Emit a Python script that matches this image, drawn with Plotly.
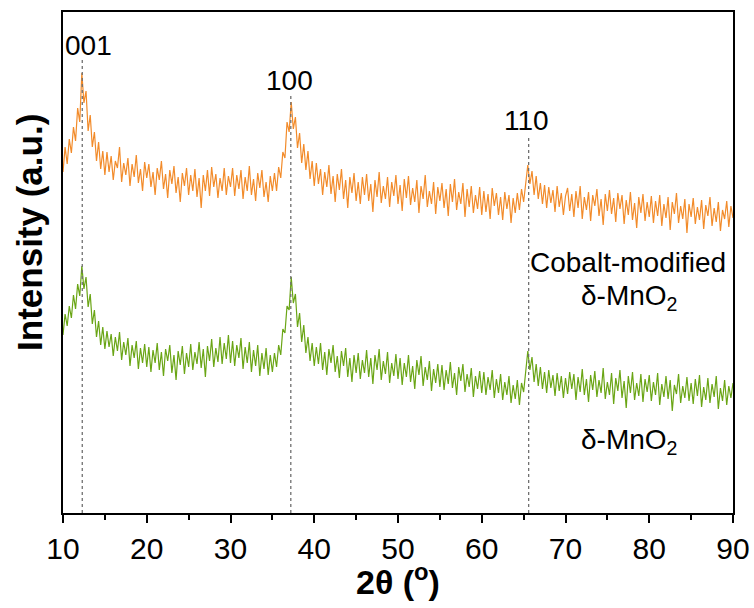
import plotly.graph_objects as go

# ---- data ----
two_theta_start = 10.0
two_theta_step = 0.25

cobalt_mno2 = [
    341, 366, 349, 374, 360, 386, 372, 405, 391, 440, 410, 422, 382, 398, 366, 381, 352, 371, 344, 362, 338,
    361, 341, 357, 333, 352, 345, 366, 331, 350, 338, 355, 327, 349, 336, 358, 330, 344, 322, 351, 335,
    349, 326, 341, 318, 345, 333, 352, 324, 339, 315, 343, 329, 347, 320, 336, 311, 340, 327, 345, 318,
    338, 322, 344, 316, 335, 305, 338, 322, 343, 317, 346, 326, 339, 315, 335, 322, 345, 318, 337, 326,
    345, 317, 338, 324, 343, 314, 336, 322, 347, 318, 334, 312, 340, 325, 343, 316, 331, 311, 337, 322,
    340, 322, 346, 335, 361, 355, 391, 381, 411, 384, 396, 365, 380, 350, 369, 343, 362, 334, 352, 327,
    350, 329, 344, 318, 341, 326, 348, 319, 337, 311, 339, 323, 344, 314, 333, 305, 336, 320, 340, 312,
    331, 309, 336, 318, 339, 312, 329, 301, 333, 316, 341, 310, 327, 314, 336, 306, 331, 317, 338, 309,
    328, 302, 334, 315, 337, 308, 325, 311, 333, 300, 327, 314, 338, 306, 322, 309, 331, 299, 326, 312,
    330, 305, 324, 297, 329, 311, 334, 303, 321, 309, 330, 296, 324, 306, 327, 300, 318, 304, 326, 298,
    322, 301, 319, 294, 325, 307, 320, 298, 316, 293, 321, 304, 318, 290, 315, 300, 320, 303, 324, 311,
    330, 348, 329, 342, 318, 337, 314, 330, 309, 328, 305, 326, 310, 323, 301, 327, 306, 320, 298, 317,
    325, 302, 319, 296, 322, 305, 327, 294, 316, 303, 321, 292, 318, 307, 324, 297, 314, 288, 319, 302,
    323, 299, 315, 291, 320, 304, 318, 289, 313, 298, 321, 293, 310, 285, 316, 300, 319, 292, 311, 296,
    317, 290, 312, 297, 318, 287, 309, 295, 316, 283, 311, 299, 320, 290, 307, 294, 314, 280, 309, 296,
    315, 289, 306, 293, 313, 284, 308, 297, 316, 287, 305, 291, 311, 282, 303, 294, 312, 286, 307, 295,
]

delta_mno2 = [
    178, 199, 187, 207, 195, 218, 204, 229, 217, 247, 224, 236, 206, 219, 189, 203, 176, 192, 168, 186, 164,
    182, 166, 179, 157, 176, 162, 181, 153, 171, 158, 175, 147, 168, 155, 172, 144, 165, 150, 169, 146,
    166, 141, 163, 150, 170, 143, 161, 137, 164, 152, 168, 140, 158, 133, 162, 148, 167, 139, 160, 146,
    169, 143, 161, 149, 171, 145, 164, 136, 167, 152, 174, 146, 165, 151, 176, 149, 170, 154, 178, 150,
    172, 147, 168, 155, 175, 144, 166, 150, 171, 141, 163, 147, 168, 137, 160, 144, 165, 138, 158, 141,
    160, 146, 168, 158, 184, 180, 207, 203, 236, 210, 219, 186, 200, 171, 188, 160, 176, 152, 170, 147,
    166, 149, 170, 143, 161, 138, 164, 150, 168, 141, 157, 135, 162, 147, 165, 136, 155, 131, 158, 140,
    160, 134, 153, 140, 163, 136, 155, 129, 158, 143, 164, 133, 152, 139, 161, 130, 150, 137, 159, 134,
    155, 128, 150, 136, 158, 131, 147, 124, 153, 138, 157, 127, 146, 133, 152, 122, 144, 130, 149, 126,
    148, 123, 143, 129, 151, 125, 140, 118, 146, 132, 149, 121, 139, 126, 145, 116, 137, 124, 142, 120,
    141, 118, 136, 123, 143, 115, 134, 120, 139, 113, 131, 118, 137, 110, 128, 114, 133, 108, 130, 121,
    140, 162, 143, 156, 131, 149, 127, 146, 124, 141, 120, 143, 125, 138, 117, 140, 122, 137, 115, 135,
    119, 141, 124, 139, 113, 136, 121, 144, 118, 134, 111, 138, 123, 142, 116, 133, 120, 145, 114, 131,
    118, 140, 109, 135, 122, 143, 115, 132, 105, 137, 120, 141, 113, 130, 117, 139, 111, 134, 121, 138,
    112, 131, 118, 140, 108, 129, 116, 137, 114, 133, 102, 128, 119, 139, 110, 127, 115, 136, 112, 130,
    109, 134, 117, 138, 106, 126, 113, 135, 110, 129, 116, 137, 104, 125, 112, 133, 108, 127, 115, 130,
]

peak_positions = [12.3, 37.2, 65.6]
peak_labels = ["001", "100", "110"]
peak_line_tops = [455, 418, 378]
peak_label_x = [13.0, 37.1, 65.4]
peak_label_y = [468, 433, 393]

sample_labels = ["Cobalt-modified", "δ-MnO<sub>2</sub>", "δ-MnO<sub>2</sub>"]
sample_label_x = [77.5, 77.7, 77.7]
sample_label_y = [251, 216, 72]

series_names = ["Cobalt-modified δ-MnO2", "δ-MnO2"]
series_colors = ["#F28B2A", "#6AA515"]

x_ticks = [10, 20, 30, 40, 50, 60, 70, 80, 90]

# ---- figure ----
FONT = "Arial, 'Liberation Sans', sans-serif"

def grid(n):
    return [two_theta_start + two_theta_step * i for i in range(n)]

fig = go.Figure()
for ys, name, col in zip([cobalt_mno2, delta_mno2], series_names, series_colors):
    fig.add_trace(go.Scatter(x=grid(len(ys)), y=ys, mode="lines", name=name,
                             line=dict(color=col, width=1.2), showlegend=False))

for px, top in zip(peak_positions, peak_line_tops):
    fig.add_shape(type="line", x0=px, x1=px, y0=0, y1=top, xref="x", yref="y",
                  line=dict(color="#707070", width=1.3, dash="dot"), layer="above")

for lx, ly, txt in zip(peak_label_x, peak_label_y, peak_labels):
    fig.add_annotation(x=lx, y=ly, text=txt, showarrow=False, xref="x", yref="y",
                       font=dict(family=FONT, size=28, color="black"))

for lx, ly, txt in zip(sample_label_x, sample_label_y, sample_labels):
    fig.add_annotation(x=lx, y=ly, text=txt, showarrow=False, xref="x", yref="y",
                       font=dict(family=FONT, size=28, color="black"))

# axis titles placed as text outside the frame
fig.add_annotation(x=-0.05, y=0.56, xref="paper", yref="paper", text="<b>Intensity (a.u.)</b>",
                   textangle=-90, showarrow=False, xanchor="center", yanchor="middle",
                   font=dict(family=FONT, size=35, color="black"))
fig.add_annotation(x=0.5, y=-0.132, xref="paper", yref="paper", text="<b>2θ (<sup>o</sup>)</b>",
                   showarrow=False, xanchor="center", yanchor="middle",
                   font=dict(family=FONT, size=34, color="black"))

fig.update_layout(
    width=754, height=608,
    margin=dict(l=63, r=21, t=12, b=95, autoexpand=False),
    paper_bgcolor="white", plot_bgcolor="white",
    font=dict(family=FONT, color="black"),
)
fig.update_xaxes(
    range=[10, 90], tickvals=x_ticks, ticktext=[str(v) for v in x_ticks],
    ticks="outside", ticklen=8, tickwidth=1.5, tickcolor="black",
    minor=dict(dtick=5, ticks="outside", ticklen=5, tickwidth=1.5, tickcolor="black", showgrid=False),
    showline=True, linecolor="black", linewidth=1.5, mirror=True,
    showgrid=False, zeroline=False, automargin=False,
    tickfont=dict(family=FONT, size=30, color="black"),
)
fig.update_yaxes(
    range=[0, 501], showticklabels=False, ticks="",
    showline=True, linecolor="black", linewidth=1.5, mirror=True,
    showgrid=False, zeroline=False, automargin=False,
)

fig.write_html("out.html")
